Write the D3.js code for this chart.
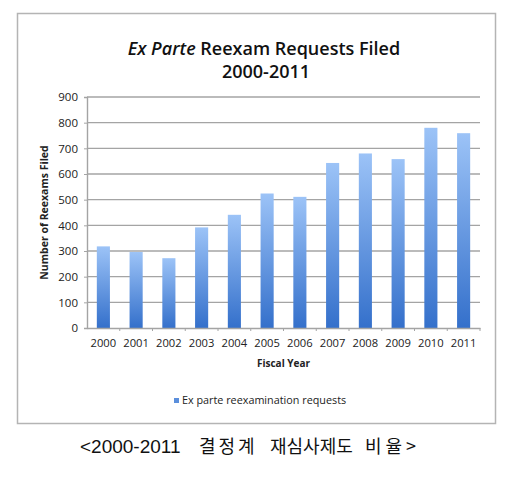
<!DOCTYPE html>
<html><head><meta charset="utf-8">
<script src="https://cdn.jsdelivr.net/npm/d3@7"></script>
<style>body{margin:0;background:#fff}svg{display:block}</style>
</head><body>
<script>
const years = ["2000","2001","2002","2003","2004","2005","2006","2007","2008","2009","2010","2011"];
const requests = [318,296,272,392,441,524,511,643,680,658,780,759];
const yTicks = [0,100,200,300,400,500,600,700,800,900];
const seriesName = "Ex parte reexamination requests";
const captionParts = ["<2000-2011", "결정계", "재심사제도", "비율>"];

const W=530,H=483;
const svg=d3.select("body").append("svg").attr("width",W).attr("height",H);
const defs=svg.append("defs");
const g=defs.append("linearGradient").attr("id","bg").attr("x1",0).attr("y1",0).attr("x2",0).attr("y2",1);
g.append("stop").attr("offset","0%").attr("stop-color","#9cc3f7");
g.append("stop").attr("offset","100%").attr("stop-color","#3470cb");

svg.append("rect").attr("x",17.5).attr("y",13.5).attr("width",478).attr("height",410)
  .attr("fill","#fff").attr("stroke","#b4b4b4").attr("stroke-width",1.5);

const font="'Open Sans', 'Liberation Sans', sans-serif";
const t=svg.append("text").attr("x",264).attr("y",55).attr("text-anchor","middle")
  .attr("font-family",font).attr("font-size",18).attr("font-weight",600).attr("fill","#111");
t.append("tspan").attr("font-style","italic").text("Ex Parte");
t.append("tspan").text(" Reexam Requests Filed");
svg.append("text").attr("x",266).attr("y",78).attr("text-anchor","middle")
  .attr("font-family",font).attr("font-size",18).attr("font-weight",600).attr("fill","#111").text("2000-2011");

const x0=87,x1=480,yTop=97,yBot=328;
const x=d3.scaleBand().domain(years).range([x0,x1]).paddingInner(0.6).paddingOuter(0.3);
const xb=d3.scaleBand().domain(years).range([x0,x1]);
const y=d3.scaleLinear().domain([0,900]).range([yBot,yTop]);

const grid=svg.append("g");
grid.selectAll("line").data(yTicks.filter(d=>d>0)).join("line")
  .attr("x1",x0).attr("x2",x1).attr("y1",d=>y(d)).attr("y2",d=>y(d))
  .attr("stroke","#a4a4a4").attr("stroke-width",1.4);

svg.append("g").selectAll("rect").data(requests).join("rect")
  .attr("x",(d,i)=>x(years[i])).attr("width",x.bandwidth())
  .attr("y",d=>y(d)).attr("height",d=>yBot-y(d)).attr("fill","url(#bg)");

const ya=svg.append("g").attr("transform",`translate(${x0},0)`)
  .call(d3.axisLeft(y).tickValues(yTicks).tickSize(3).tickPadding(6));
ya.select(".domain").attr("stroke","#a4a4a4").attr("stroke-width",1.4);
ya.selectAll(".tick line").attr("stroke","#a4a4a4");
ya.selectAll("text").attr("font-family",font).attr("font-size",11.5).attr("fill","#222");

const xa=svg.append("g").attr("transform",`translate(0,${yBot})`)
  .call(d3.axisBottom(xb).tickSize(0).tickPadding(11));
xa.select(".domain").attr("stroke","#a4a4a4").attr("stroke-width",1.4);
xa.selectAll("text").attr("font-family",font).attr("font-size",11.2).attr("fill","#222");
svg.append("g").selectAll("line").data(years.slice(1)).join("line")
  .attr("x1",d=>xb(d)).attr("x2",d=>xb(d)).attr("y1",yBot).attr("y2",yBot+3)
  .attr("stroke","#a4a4a4");
svg.append("line").attr("x1",x1).attr("x2",x1).attr("y1",yBot).attr("y2",yBot+3).attr("stroke","#a4a4a4");

svg.append("text").attr("x",(x0+x1)/2).attr("y",367).attr("text-anchor","middle")
  .attr("font-family",font).attr("font-size",10).attr("font-weight",700).attr("fill","#222").text("Fiscal Year");
svg.append("text").attr("transform",`translate(48,${(yTop+yBot)/2}) rotate(-90)`).attr("text-anchor","middle")
  .attr("font-family",font).attr("font-size",10.5).attr("font-weight",700).attr("fill","#222").text("Number of Reexams Filed");

svg.append("rect").attr("x",174).attr("y",398).attr("width",5).attr("height",5).attr("fill","#5b8fdc");
svg.append("text").attr("x",182).attr("y",404).attr("font-family",font).attr("font-size",10.8)
  .attr("fill","#222").text(seriesName);

const capX=[80,199,270,365];
const capSpacing=[0,3,0,4];
const cap=svg.append("text").attr("y",453)
  .attr("font-family","'Noto Sans CJK KR', sans-serif").attr("font-size",18).attr("fill","#111");
captionParts.forEach((p,i)=>{
  if(i>0) cap.append("tspan").text(" ");
  const ts=cap.append("tspan").attr("x",capX[i]).attr("letter-spacing",capSpacing[i]).text(p);
  if(i===0) ts.attr("font-family","'Liberation Sans', Arial, sans-serif").attr("font-size",19);
});
</script>
</body></html>
